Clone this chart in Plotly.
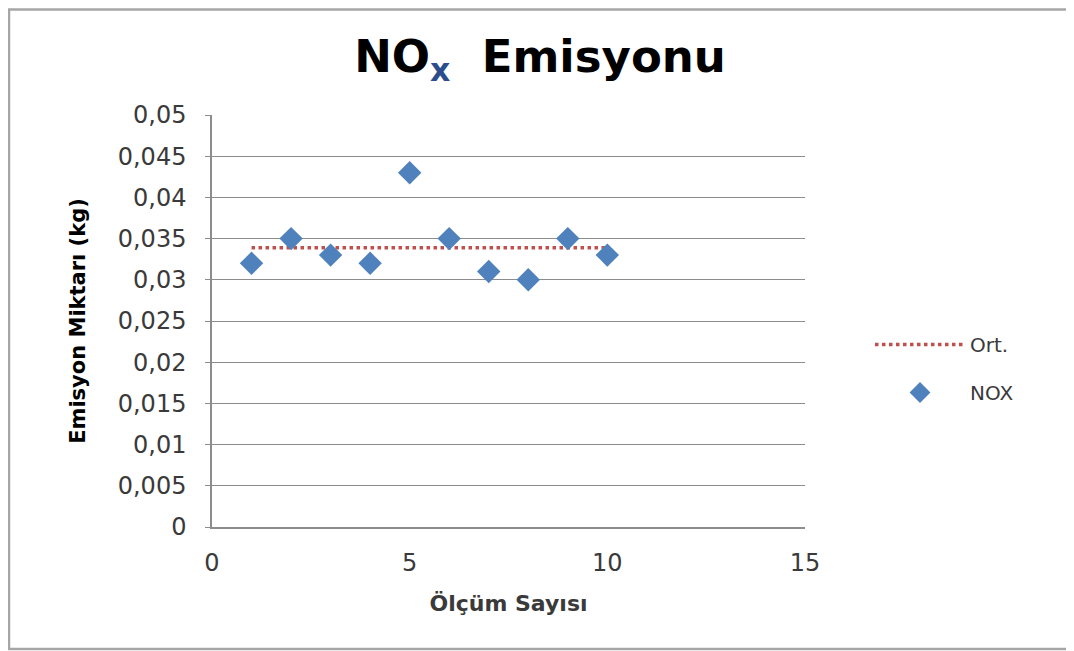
import plotly.graph_objects as go

olcum = [1, 2, 3, 4, 5, 6, 7, 8, 9, 10]
nox = [0.032, 0.035, 0.033, 0.032, 0.043, 0.035, 0.031, 0.030, 0.035, 0.033]
ort_value = sum(nox) / len(nox)
ort = [ort_value] * len(olcum)
y_ticks = [0, 0.005, 0.01, 0.015, 0.02, 0.025, 0.03, 0.035, 0.04, 0.045, 0.05]
y_tick_labels = ["0", "0,005", "0,01", "0,015", "0,02", "0,025", "0,03", "0,035", "0,04", "0,045", "0,05"]
x_ticks = [0, 5, 10, 15]
x_tick_labels = ["0", "5", "10", "15"]

FONT = "DejaVu Sans"
TXT = "#3a3a3a"
GRID = "#8c8c8c"

# page body has an 8px margin; work in screen coordinates and subtract it
OFF = 8
FW, FH = 1074 - OFF, 651 - OFF
L, R, T, B = 212 - OFF, 805 - OFF, 115 - OFF, 527 - OFF
W, H = R - L, B - T


def px_x(p):
    return (p - OFF - L) / W


def px_y(p):
    return (B - (p - OFF)) / H


fig = go.Figure()
fig.add_trace(go.Scatter(
    x=olcum, y=ort, mode="lines", name="Ort.", legendgroup="a",
    line=dict(color="#C0504D", width=3.5, dash="dot"),
))
fig.add_trace(go.Scatter(
    x=olcum, y=nox, mode="markers", name="NOX", legendgroup="b",
    marker=dict(symbol="diamond", size=18, color="#4F81BD"),
))

# outer chart frame
fig.add_shape(type="rect", xref="paper", yref="paper",
              x0=px_x(9), x1=px_x(1072), y0=px_y(649), y1=px_y(9.5),
              line=dict(color="#a6a6a6", width=2.5), fillcolor="rgba(0,0,0,0)", layer="below")

fig.update_layout(
    width=FW, height=FH,
    margin=dict(l=L, r=FW - R, t=T, b=FH - B, autoexpand=False),
    paper_bgcolor="white", plot_bgcolor="white",
    title=dict(
        text="NO<sub><span style='color:#2b4d8c'>x</span></sub>&nbsp; Emisyonu",
        x=(540 - OFF) / FW, xanchor="center", xref="container",
        y=(FH - (56 - OFF)) / FH, yanchor="middle",
        font=dict(family=FONT, size=45, color="#000000", weight="bold"),
    ),
    showlegend=True,
    legend=dict(
        x=px_x(870), xanchor="left", y=px_y(325), yanchor="top",
        font=dict(family=FONT, size=20, color=TXT),
        tracegroupgap=19, traceorder="grouped",
        bgcolor="rgba(0,0,0,0)", itemwidth=90,
    ),
    font=dict(family=FONT, color=TXT),
)

fig.update_xaxes(
    range=[0, 15], tickvals=x_ticks, ticktext=x_tick_labels,
    showgrid=False, zeroline=False, showline=True, linecolor=GRID, linewidth=1.5,
    ticks="", ticklabelstandoff=13,
    tickfont=dict(family=FONT, size=24, color=TXT),
    title=dict(text="Ölçüm Sayısı", standoff=20,
               font=dict(family=FONT, size=22, color=TXT, weight="bold")),
)
fig.update_yaxes(
    range=[0, 0.05], tickvals=y_ticks, ticktext=y_tick_labels,
    showgrid=True, gridcolor=GRID, gridwidth=1.3, zeroline=False,
    showline=True, linecolor=GRID, linewidth=1.5,
    ticks="outside", ticklen=5, tickcolor=GRID, ticklabelstandoff=14,
    tickfont=dict(family=FONT, size=24, color=TXT),
    title=dict(text="Emisyon Miktarı (kg)", standoff=26,
               font=dict(family=FONT, size=21, color="#000000", weight="bold")),
)

fig.write_html("out.html")
